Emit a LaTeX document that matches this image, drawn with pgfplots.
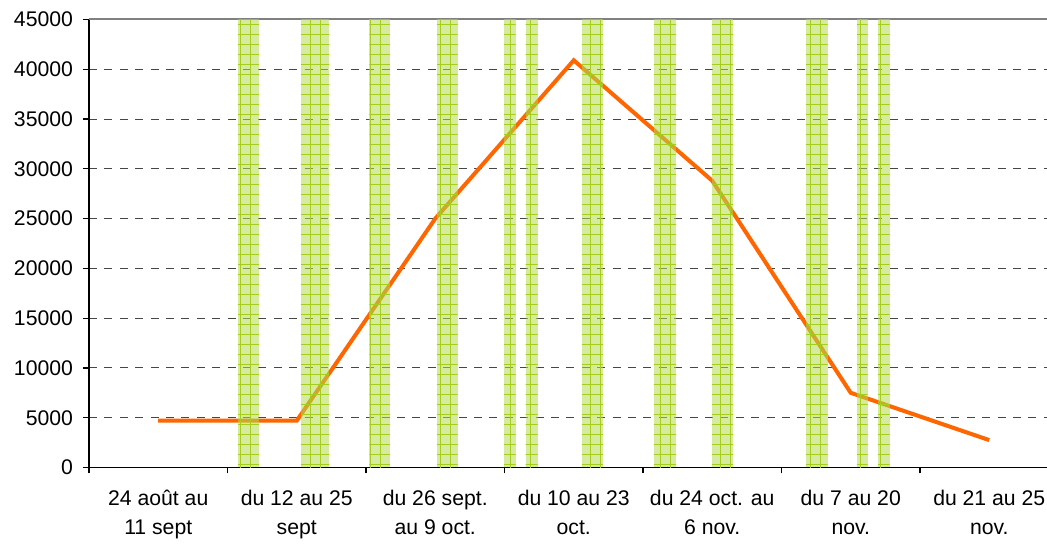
\documentclass[border=0pt]{standalone}
\usepackage{fontspec}
\setmainfont{Liberation Sans}
\usepackage{pgfplots}
\pgfplotsset{compat=1.18}
\usetikzlibrary{patterns.meta}
\definecolor{lineor}{RGB}{255,102,0}
\definecolor{bandg}{RGB}{180,218,80}
\definecolor{bandp}{RGB}{165,205,30}
\definecolor{gridc}{RGB}{70,70,70}
\pgfplotsset{band/.style={draw=none, fill=bandg, fill opacity=0.55,
  postaction={pattern={Lines[angle=0,distance=5pt,line width=0.4pt]}, pattern color=bandp},
  postaction={pattern={Lines[angle=90,distance=5pt,line width=0.4pt]}, pattern color=bandp}}}
\begin{document}
\begin{tikzpicture}
\useasboundingbox (-44.5pt,-38.25pt) rectangle (479pt,233.75pt);
\begin{axis}[at={(0,0)}, anchor=south west, scale only axis, width=479pt, height=224pt,
  xmin=-0.5, xmax=6.417, ymin=0, ymax=45000,
  axis x line*=bottom, axis y line*=left,
  axis line style={-, black, line width=0.8pt},
  font=\fontsize{10.6}{15}\selectfont,
  tick align=outside,
  major tick length=3pt, minor tick length=3pt,
  xtick={0,...,6},
  xticklabels={{24 août au\\11 sept},{du 12 au 25\\sept},{du 26 sept.\\au 9 oct.},{du 10 au 23\\oct.},{du 24 oct. au\\6 nov.},{du 7 au 20\\nov.},{du 21 au 25\\nov.}},
  xticklabel style={align=center, font=\fontsize{10.6}{14.5}\selectfont, yshift=-5pt},
  x tick style={draw=none},
  minor xtick={-0.5,0.5,1.5,...,5.5},
  minor x tick style={draw=black, line width=0.6pt},
  ytick={0,5000,...,40000},
  extra y ticks={45000},
  extra y tick style={grid=major, major grid style={solid, gray, line width=1pt}},
  y tick style={black, line width=0.6pt},
  ymajorgrids,
  major grid style={dash pattern=on 4pt off 3.7pt, gridc, line width=0.5pt},
  scaled y ticks=false,
  /pgf/number format/1000 sep={},
  /pgf/number format/assume math mode=true,
  yticklabel style={font=\fontsize{10.6}{12}\selectfont, xshift=-1.5pt},
]
\addplot[lineor, line width=2pt] coordinates {(0,4700)(1,4700)(2,25000)(3,40900)(4,28800)(5,7500)(6,2750)};
\addplot[band] coordinates {(0.576,45000)(0.727,45000)} \closedcycle;
\addplot[band] coordinates {(1.031,45000)(1.235,45000)} \closedcycle;
\addplot[band] coordinates {(1.524,45000)(1.673,45000)} \closedcycle;
\addplot[band] coordinates {(2.013,45000)(2.162,45000)} \closedcycle;
\addplot[band] coordinates {(2.496,45000)(2.581,45000)} \closedcycle;
\addplot[band] coordinates {(2.653,45000)(2.740,45000)} \closedcycle;
\addplot[band] coordinates {(3.060,45000)(3.210,45000)} \closedcycle;
\addplot[band] coordinates {(3.579,45000)(3.740,45000)} \closedcycle;
\addplot[band] coordinates {(3.998,45000)(4.150,45000)} \closedcycle;
\addplot[band] coordinates {(4.677,45000)(4.833,45000)} \closedcycle;
\addplot[band] coordinates {(5.045,45000)(5.122,45000)} \closedcycle;
\addplot[band] coordinates {(5.197,45000)(5.281,45000)} \closedcycle;
\end{axis}
\end{tikzpicture}
\end{document}
